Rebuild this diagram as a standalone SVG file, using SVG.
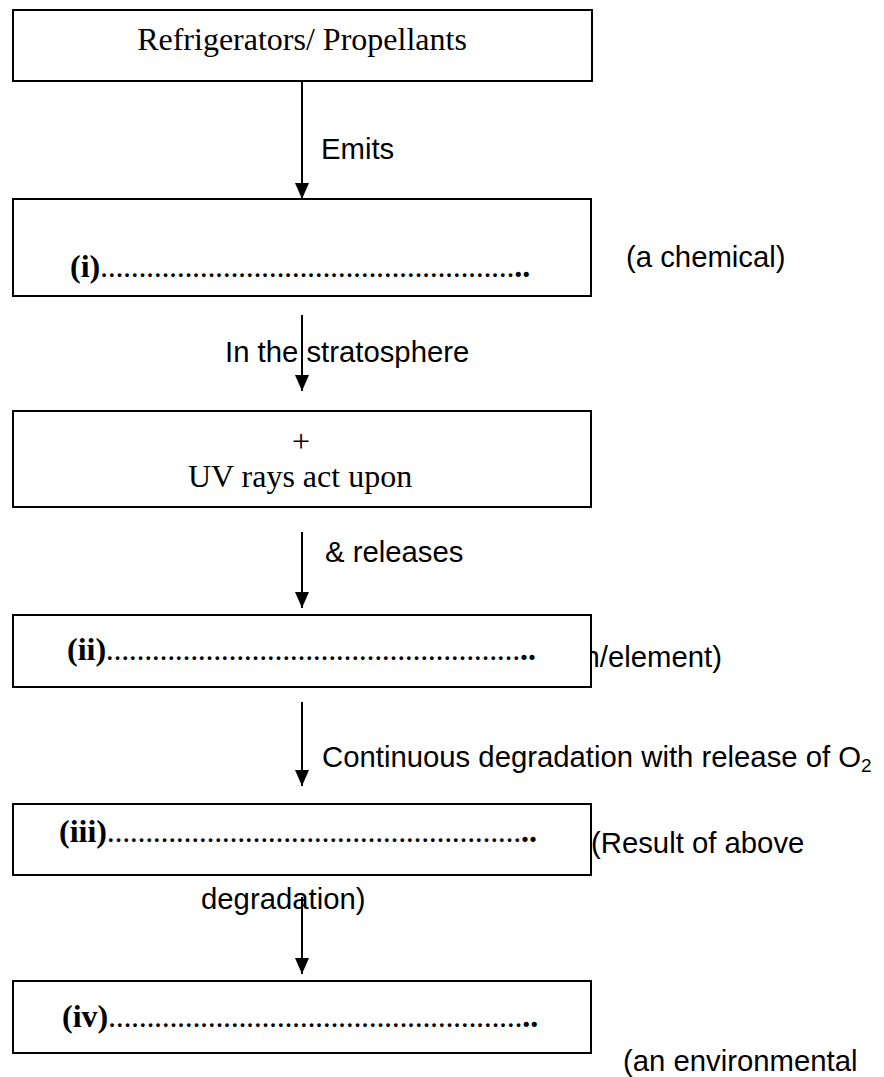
<svg xmlns="http://www.w3.org/2000/svg" width="884" height="1077" viewBox="0 0 884 1077">
<style>
.box{fill:#fff;stroke:#000;stroke-width:2}
.serif{font-family:"Liberation Serif","Times New Roman",serif;font-size:32px;fill:#000}
.blank{font-family:"Liberation Serif","Times New Roman",serif;font-size:32px;font-weight:bold;fill:#000}
.dots{font-size:23px}
.sans{font-family:"Liberation Sans",Arial,sans-serif;font-size:29.3px;fill:#000}
.conn{stroke:#000;stroke-width:2;fill:none;marker-end:url(#ah)}
</style>
<defs>
<marker id="ah" markerWidth="16" markerHeight="14" refX="16" refY="7" orient="auto" markerUnits="userSpaceOnUse" viewBox="0 0 16 14">
<path d="M0,0 L16,7 L0,14 Z" fill="#000"/>
</marker>
</defs>
<rect width="884" height="1077" fill="#fff"/>
<g id="side-labels">
<text class="sans" x="722" y="667" text-anchor="end">n/element)</text>
<text class="sans" x="591" y="853">(Result of above</text>
</g>
<g id="node1">
<rect class="box" x="13" y="10" width="579" height="71"/>
<text class="serif" x="302" y="50" text-anchor="middle">Refrigerators/ Propellants</text>
</g>
<g id="node2">
<rect class="box" x="13" y="199" width="578" height="97"/>
<text class="blank" x="70" y="277">(i)<tspan class="dots">&#8230;&#8230;&#8230;&#8230;&#8230;&#8230;&#8230;&#8230;&#8230;&#8230;&#8230;&#8230;&#8230;&#8230;&#8230;&#8230;&#8230;&#8230;</tspan>..</text>
<text class="sans" x="626" y="267">(a chemical)</text>
</g>
<g id="node3">
<rect class="box" x="13" y="411" width="578" height="96"/>
<text class="serif" x="301" y="452" text-anchor="middle">+</text>
<text class="serif" x="300" y="487" text-anchor="middle">UV rays act upon</text>
</g>
<g id="node4">
<rect class="box" x="13" y="615" width="578" height="72"/>
<text class="blank" x="67" y="660">(ii)<tspan class="dots">&#8230;&#8230;&#8230;&#8230;&#8230;&#8230;&#8230;&#8230;&#8230;&#8230;&#8230;&#8230;&#8230;&#8230;&#8230;&#8230;&#8230;&#8230;</tspan>..</text>
</g>
<g id="node5">
<rect class="box" x="13" y="804" width="578" height="71"/>
<text class="blank" x="59" y="842">(iii)<tspan class="dots">&#8230;&#8230;&#8230;&#8230;&#8230;&#8230;&#8230;&#8230;&#8230;&#8230;&#8230;&#8230;&#8230;&#8230;&#8230;&#8230;&#8230;&#8230;</tspan>..</text>
</g>
<g id="node6">
<rect class="box" x="13" y="981" width="578" height="72"/>
<text class="blank" x="62" y="1027">(iv)<tspan class="dots">&#8230;&#8230;&#8230;&#8230;&#8230;&#8230;&#8230;&#8230;&#8230;&#8230;&#8230;&#8230;&#8230;&#8230;&#8230;&#8230;&#8230;&#8230;</tspan>..</text>
<text class="sans" x="623" y="1071">(an environmental</text>
</g>
<g id="connectors">
<line class="conn" x1="302" y1="81" x2="302" y2="199"/>
<line class="conn" x1="302" y1="315" x2="302" y2="391"/>
<line class="conn" x1="302" y1="532" x2="302" y2="608"/>
<line class="conn" x1="302" y1="702" x2="302" y2="786"/>
<line class="conn" x1="302" y1="897" x2="302" y2="974"/>
</g>
<g id="connector-labels">
<text class="sans" x="321" y="159">Emits</text>
<text class="sans" x="225" y="362">In the stratosphere</text>
<text class="sans" x="325" y="562">&amp; releases</text>
<text class="sans" x="322" y="767">Continuous degradation with release of O<tspan font-size="19" dy="5">2</tspan></text>
<text class="sans" x="201" y="909">degradation)</text>
</g>
</svg>
